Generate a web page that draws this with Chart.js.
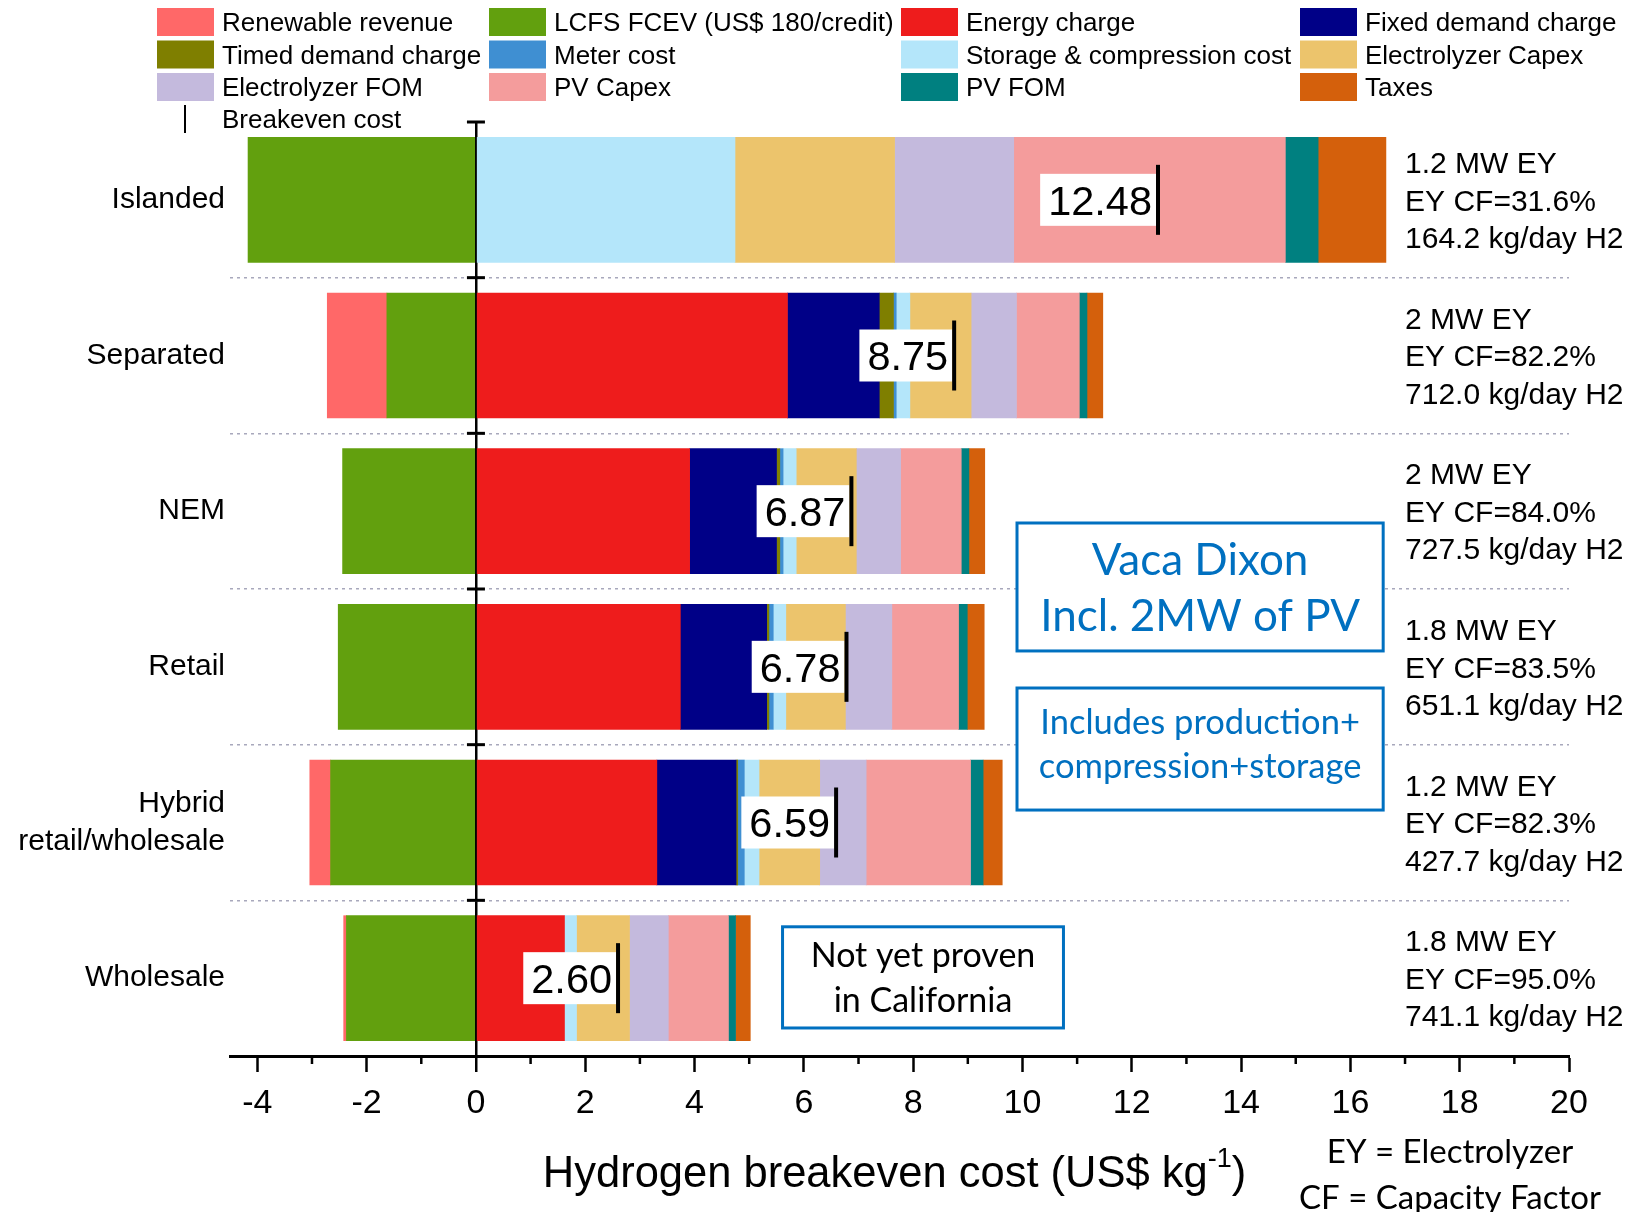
<!DOCTYPE html>
<html>
<head>
<meta charset="utf-8">
<title>Hydrogen breakeven cost</title>
<script src="https://cdn.jsdelivr.net/npm/chart.js@4.4.1/dist/chart.umd.min.js"></script>
<style>
  html, body { margin: 0; padding: 0; background: #fff; }
  canvas { display: block; }
</style>
</head>
<body>
<canvas id="chart" width="1639" height="1212"></canvas>
<script>
// ---- data -------------------------------------------------------------
const categories = ['Islanded', 'Separated', 'NEM', 'Retail', ['Hybrid', 'retail/wholesale'], 'Wholesale'];

// Cost components in US$ per kg H2 (credits / revenues are negative)
const lcfsCredit       = [-4.17, -1.63, -2.44, -2.52, -2.66, -2.37];
const renewableRevenue = [ 0.00, -1.09,  0.00,  0.00, -0.38, -0.05];
const energyCharge     = [ 0.00,  5.70,  3.91,  3.74,  3.31,  1.62];
const fixedDemand      = [ 0.00,  1.68,  1.59,  1.58,  1.45,  0.00];
const timedDemand      = [ 0.00,  0.26,  0.06,  0.04,  0.03,  0.00];
const meterCost        = [ 0.00,  0.05,  0.06,  0.08,  0.12,  0.00];
const storageCost      = [ 4.74,  0.25,  0.24,  0.23,  0.27,  0.22];
const eyCapex          = [ 2.92,  1.12,  1.10,  1.09,  1.11,  0.97];
const eyFom            = [ 2.18,  0.83,  0.81,  0.85,  0.85,  0.71];
const pvCapex          = [ 4.97,  1.15,  1.11,  1.22,  1.91,  1.10];
const pvFom            = [ 0.60,  0.14,  0.14,  0.16,  0.23,  0.13];
const taxes            = [ 1.24,  0.29,  0.29,  0.31,  0.35,  0.27];

// Net breakeven cost per configuration
const breakevenCost = [12.48, 8.75, 6.87, 6.78, 6.59, 2.60];

// Electrolyzer sizing notes per configuration
const systemInfo = [
  ['1.2 MW EY', 'EY CF=31.6%', '164.2 kg/day H2'],
  ['2 MW EY',   'EY CF=82.2%', '712.0 kg/day H2'],
  ['2 MW EY',   'EY CF=84.0%', '727.5 kg/day H2'],
  ['1.8 MW EY', 'EY CF=83.5%', '651.1 kg/day H2'],
  ['1.2 MW EY', 'EY CF=82.3%', '427.7 kg/day H2'],
  ['1.8 MW EY', 'EY CF=95.0%', '741.1 kg/day H2']
];

const xTickValues      = [-4, -2, 0, 2, 4, 6, 8, 10, 12, 14, 16, 18, 20];
const xMinorTickValues = [-3, -1, 1, 3, 5, 7, 9, 11, 13, 15, 17, 19];

const axisTitle = 'Hydrogen breakeven cost (US$ kg';
const axisTitleSup = '-1';
const abbreviations = ['EY = Electrolyzer', 'CF = Capacity Factor'];

// Stacking order: first entries sit next to zero
const series = [
  { label: 'LCFS FCEV (US$ 180/credit)', data: lcfsCredit,       color: '#62A00E' },
  { label: 'Renewable revenue',          data: renewableRevenue, color: '#FF6868' },
  { label: 'Energy charge',              data: energyCharge,     color: '#EE1C1C' },
  { label: 'Fixed demand charge',        data: fixedDemand,      color: '#000087' },
  { label: 'Timed demand charge',        data: timedDemand,      color: '#7F7F00' },
  { label: 'Meter cost',                 data: meterCost,        color: '#3F8FD2' },
  { label: 'Storage & compression cost', data: storageCost,      color: '#B4E6FA' },
  { label: 'Electrolyzer Capex',         data: eyCapex,          color: '#ECC46C' },
  { label: 'Electrolyzer FOM',           data: eyFom,            color: '#C4BADD' },
  { label: 'PV Capex',                   data: pvCapex,          color: '#F49C9C' },
  { label: 'PV FOM',                     data: pvFom,            color: '#008080' },
  { label: 'Taxes',                      data: taxes,            color: '#D4600C' }
];

const legendRows = [
  ['Renewable revenue', 'LCFS FCEV (US$ 180/credit)', 'Energy charge', 'Fixed demand charge'],
  ['Timed demand charge', 'Meter cost', 'Storage & compression cost', 'Electrolyzer Capex'],
  ['Electrolyzer FOM', 'PV Capex', 'PV FOM', 'Taxes']
];
const breakevenLegendLabel = 'Breakeven cost';

// Boxed notes, placed in axis units (x: cost, y: category index)
const noteBoxes = [
  { x: [9.9, 16.6], y: [2.076, 2.898], lines: ['Vaca Dixon', 'Incl. 2MW of PV'],               size: 44,   gap: 56, shift: 0,  color: '#0070C0' },
  { x: [9.9, 16.6], y: [3.136, 3.920], lines: ['Includes production+', 'compression+storage'], size: 34.5, gap: 44, shift: -5, color: '#0070C0' },
  { x: [5.61, 10.75], y: [4.67, 5.32], lines: ['Not yet proven', 'in California'],              size: 34,   gap: 45, shift: 0,  color: '#000000' }
];

// ---- drawing ----------------------------------------------------------
const SANS = '"Liberation Sans", Arial, sans-serif';
const NOTE = 'Lato, "Open Sans", sans-serif';
const VALUE_SIZE = 41.5;

function drawText(ctx, s, x, y, size, family, color, align) {
  ctx.font = size + 'px ' + family;
  ctx.fillStyle = color;
  ctx.textAlign = align || 'left';
  ctx.textBaseline = 'alphabetic';
  ctx.fillText(s, x, y);
}

const decorations = {
  id: 'decorations',
  afterDraw(chart) {
    const ctx = chart.ctx;
    const xs = chart.scales.x, ys = chart.scales.y;
    const area = chart.chartArea;
    ctx.save();

    // minor ticks on the cost axis
    ctx.strokeStyle = '#000';
    ctx.lineWidth = 2.5;
    xMinorTickValues.forEach(v => {
      const px = xs.getPixelForValue(v);
      ctx.beginPath();
      ctx.moveTo(px, area.bottom);
      ctx.lineTo(px, area.bottom + 8);
      ctx.stroke();
    });

    // cross ticks on the zero line at category boundaries
    const x0 = xs.getPixelForValue(0);
    ctx.lineWidth = 3;
    for (let i = 0; i < categories.length; i++) {
      const py = ys.getPixelForValue(i - 0.5);
      ctx.beginPath();
      ctx.moveTo(x0 - 9, py);
      ctx.lineTo(x0 + 9, py);
      ctx.stroke();
    }

    // breakeven markers with value labels
    breakevenCost.forEach((v, i) => {
      const px = xs.getPixelForValue(v);
      const yc = ys.getPixelForValue(i);
      const label = v.toFixed(2);
      ctx.font = VALUE_SIZE + 'px ' + SANS;
      const tw = ctx.measureText(label).width;
      ctx.fillStyle = '#fff';
      ctx.fillRect(px - 2 - tw - 12, yc - 26, tw + 12, 52);
      drawText(ctx, label, px - 6, yc + 0.358 * VALUE_SIZE, VALUE_SIZE, SANS, '#000', 'right');
      ctx.strokeStyle = '#000';
      ctx.lineWidth = 4;
      ctx.beginPath();
      ctx.moveTo(px, yc - 35);
      ctx.lineTo(px, yc + 35);
      ctx.stroke();
    });

    // system notes to the right of each bar
    const infoX = xs.getPixelForValue(17);
    systemInfo.forEach((lines, i) => {
      const yc = ys.getPixelForValue(i);
      lines.forEach((s, k) => {
        drawText(ctx, s, infoX, yc + (k - 1) * 37.6 + 10.7, 30, SANS, '#000', 'left');
      });
    });

    // boxed notes
    noteBoxes.forEach(b => {
      const l = xs.getPixelForValue(b.x[0]), r = xs.getPixelForValue(b.x[1]);
      const t = ys.getPixelForValue(b.y[0]), btm = ys.getPixelForValue(b.y[1]);
      ctx.fillStyle = '#fff';
      ctx.fillRect(l, t, r - l, btm - t);
      ctx.strokeStyle = '#0070C0';
      ctx.lineWidth = 3;
      ctx.strokeRect(l, t, r - l, btm - t);
      const cx = (l + r) / 2, cy = (t + btm) / 2 + b.shift;
      b.lines.forEach((s, k) => {
        const lineCy = cy + (k - (b.lines.length - 1) / 2) * b.gap;
        drawText(ctx, s, cx, lineCy + 0.36 * b.size, b.size, NOTE, b.color, 'center');
      });
    });

    // legend
    const colX = [157, 489, 901, 1300];
    const rowY = [22, 54.5, 87];
    legendRows.forEach((row, r) => {
      row.forEach((name, c) => {
        const s = series.find(d => d.label === name);
        ctx.fillStyle = s.color;
        ctx.fillRect(colX[c], rowY[r] - 14, 57, 28);
        drawText(ctx, name, colX[c] + 65, rowY[r] + 9.3, 26, SANS, '#000', 'left');
      });
    });
    ctx.strokeStyle = '#000';
    ctx.lineWidth = 2;
    ctx.beginPath();
    ctx.moveTo(185, 105);
    ctx.lineTo(185, 133);
    ctx.stroke();
    drawText(ctx, breakevenLegendLabel, colX[0] + 65, 119 + 9.3, 26, SANS, '#000', 'left');

    // axis title with superscript unit
    ctx.font = '43.5px ' + SANS;
    const w1 = ctx.measureText(axisTitle).width;
    ctx.font = '27px ' + SANS;
    const w2 = ctx.measureText(axisTitleSup).width;
    ctx.font = '43.5px ' + SANS;
    const w3 = ctx.measureText(')').width;
    const tx = (area.left + area.right) / 2 - 5 - (w1 + w2 + w3) / 2;
    drawText(ctx, axisTitle, tx, 1187, 43.5, SANS, '#000', 'left');
    drawText(ctx, axisTitleSup, tx + w1, 1167, 27, SANS, '#000', 'left');
    drawText(ctx, ')', tx + w1 + w2, 1187, 43.5, SANS, '#000', 'left');

    // abbreviations
    drawText(ctx, abbreviations[0], 1450, 1163, 33, NOTE, '#000', 'center');
    drawText(ctx, abbreviations[1], 1450, 1209, 33, NOTE, '#000', 'center');

    ctx.restore();
  }
};

new Chart(document.getElementById('chart'), {
  type: 'bar',
  data: {
    labels: categories,
    datasets: series.map(s => ({
      label: s.label,
      // empty components are left out rather than drawn as zero-width slivers
      data: s.data.map(v => (v === 0 ? null : v)),
      backgroundColor: s.color,
      borderWidth: 0,
      barThickness: 125
    }))
  },
  options: {
    indexAxis: 'y',
    responsive: false,
    animation: false,
    devicePixelRatio: 1,
    layout: { padding: { top: 122, right: 70, bottom: 0, left: 0 } },
    plugins: {
      legend: { display: false },
      tooltip: { enabled: false }
    },
    scales: {
      x: {
        type: 'linear',
        stacked: true,
        min: -4.5,
        max: 20,
        z: 1,
        afterBuildTicks: scale => { scale.ticks = xTickValues.map(v => ({ value: v })); },
        afterFit: scale => { scale.height = 156; },
        ticks: {
          autoSkip: false,
          maxRotation: 0,
          padding: 11,
          color: '#000',
          font: { family: SANS, size: 34 },
          callback: v => String(v)
        },
        grid: {
          color: c => (c.tick && c.tick.value === 0) ? '#000' : 'rgba(0,0,0,0)',
          lineWidth: c => (c.tick && c.tick.value === 0) ? 2.5 : 1,
          drawTicks: true,
          tickLength: 16,
          tickColor: '#000',
          tickWidth: 2.5
        },
        border: { display: true, color: '#000', width: 3 }
      },
      y: {
        type: 'category',
        stacked: true,
        offset: true,
        afterFit: scale => { scale.width = 230; },
        ticks: {
          padding: 5,
          color: '#000',
          font: { family: SANS, size: 30, lineHeight: 1.25 }
        },
        grid: {
          offset: true,
          drawTicks: false,
          color: c => (c.type === 'tick' && c.index > 0) ? '#A8A8BC' : 'rgba(0,0,0,0)',
          lineWidth: 1.5
        },
        border: { display: false, dash: [3, 4] }
      }
    }
  },
  plugins: [decorations]
});
</script>
</body>
</html>
